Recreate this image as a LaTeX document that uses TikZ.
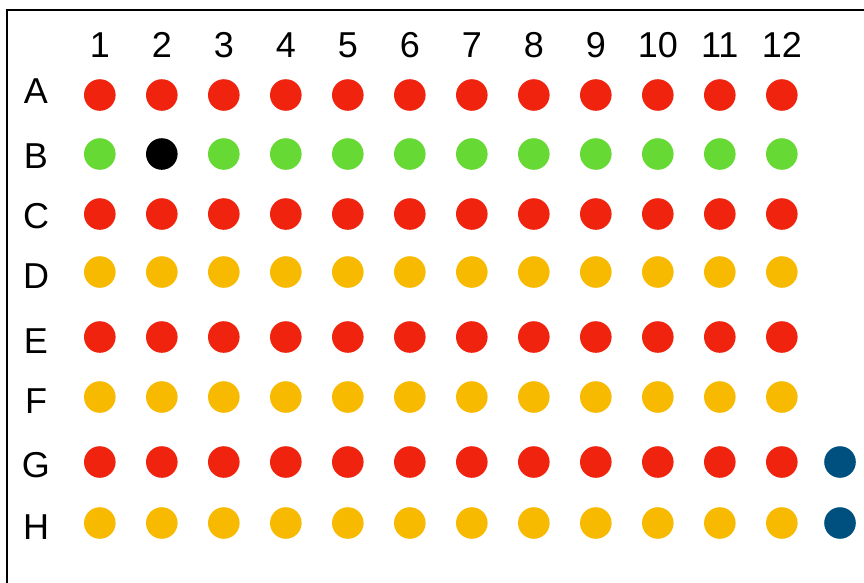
\documentclass[tikz,border=0pt]{standalone}
\usepackage{fontspec}
\setmainfont{Liberation Sans}
\usepackage{xcolor}
\definecolor{wellred}{HTML}{F0230F}
\definecolor{wellgreen}{HTML}{66D934}
\definecolor{wellyellow}{HTML}{F8BA00}
\definecolor{wellblue}{HTML}{00507F}

\begin{document}
\begin{tikzpicture}[
    x=1pt, y=-1pt,
    well/.style={circle, minimum size=31.6pt, inner sep=0pt},
    lbl/.style={font=\fontsize{36}{40}\selectfont, inner sep=0pt, anchor=base}
  ]
    \useasboundingbox (0,0) rectangle (864,582);
    \clip (0,0) rectangle (864,582);

    % Cadre de la plaque
    \draw[line width=2pt] (7,10) rectangle (900,620);

    % Numéros de colonnes
    \foreach \c in {1,...,12}
      \node[lbl] (col\c) at ({99.8+62*(\c-1)},57) {\c};

    % Lignes de puits
    \foreach \r/\y/\b/\col in {A/95/103/wellred, C/214/228/wellred,
                               D/272/288/wellyellow, E/337/353/wellred,
                               F/397/413/wellyellow, G/462/477/wellred,
                               H/523/539/wellyellow} {
      \node[lbl] (row\r) at (36,\b) {\r};
      \foreach \c in {1,...,12}
        \node[well, fill=\col] (\r\c) at ({99.8+62*(\c-1)},\y) {};
    }

    % Ligne B : un puits noir
    \node[lbl] (rowB) at (36,168) {B};
    \foreach \c in {1,3,4,5,6,7,8,9,10,11,12}
      \node[well, fill=wellgreen] (B\c) at ({99.8+62*(\c-1)},154) {};
    \node[well, fill=black] (B2) at (161.8,154) {};

    % Puits supplémentaires
    \node[well, fill=wellblue] (G13) at (840,462) {};
    \node[well, fill=wellblue] (H13) at (840,523) {};

  \end{tikzpicture}
\end{document}
